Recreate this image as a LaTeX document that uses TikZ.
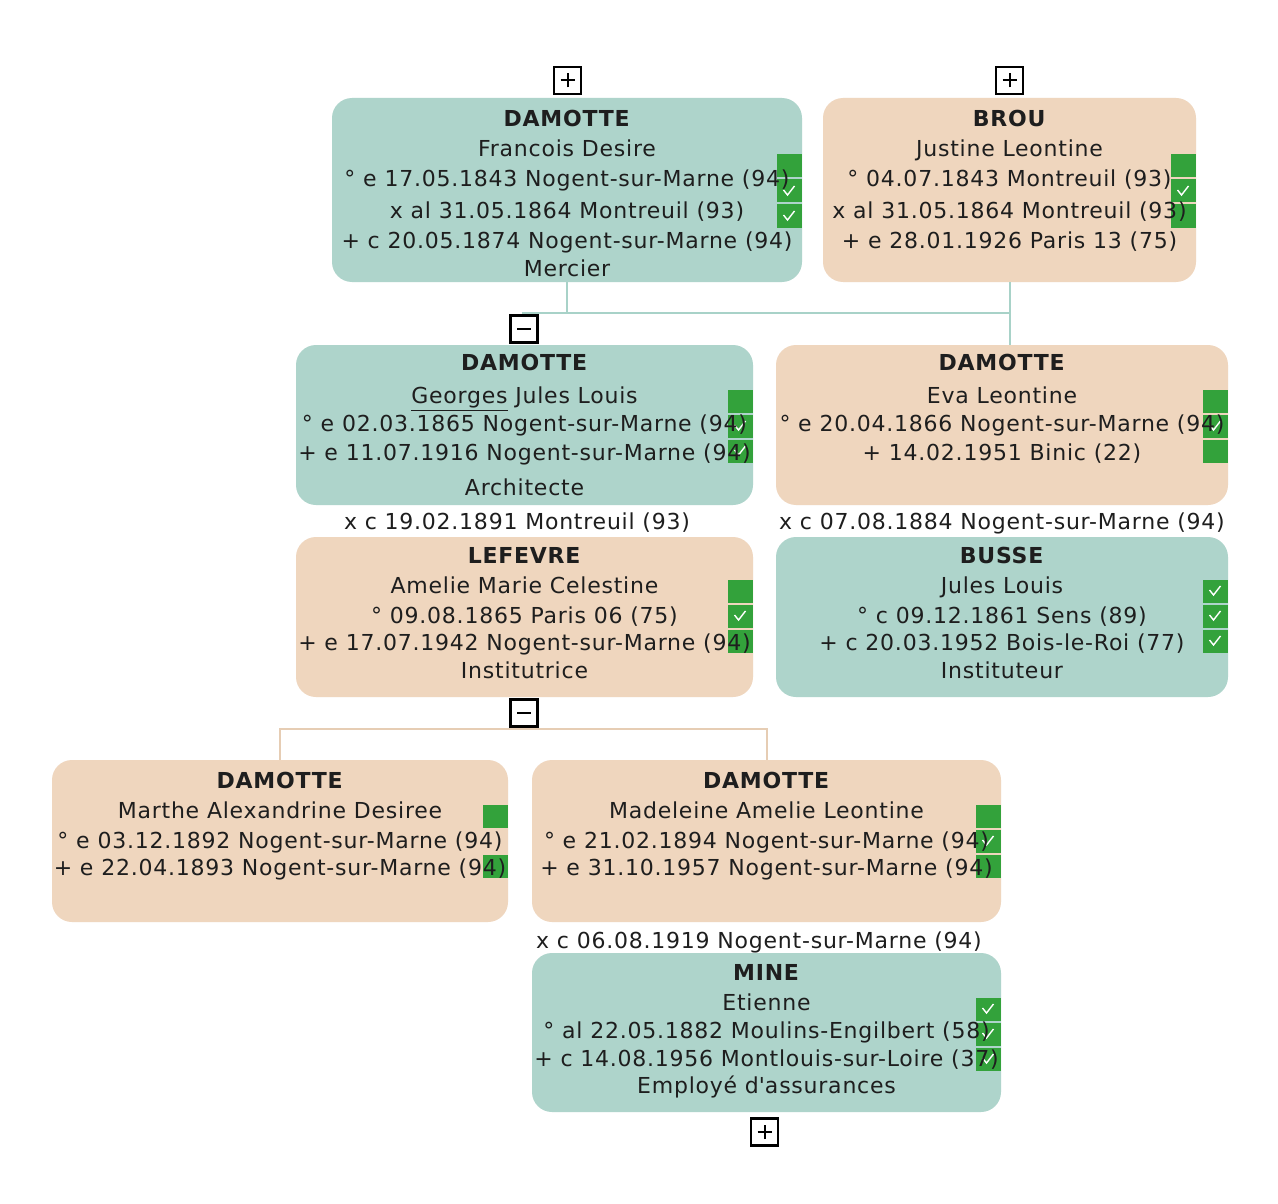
\documentclass[tikz,border=0pt]{standalone}
\usepackage{fontspec}
\setmainfont{DejaVu Sans}[LetterSpace=3.5]
\definecolor{male}{HTML}{AED4CB}
\definecolor{female}{HTML}{EFD6BE}
\definecolor{maletie}{HTML}{A8D2C8}
\definecolor{femaletie}{HTML}{E6CDB4}
\definecolor{source}{HTML}{33A23B}
\definecolor{ink}{HTML}{1E1E1E}
\tikzset{
  person/.style={rectangle, rounded corners=20pt, inner sep=0pt, draw=none},
  man/.style={person, fill=male},
  woman/.style={person, fill=female},
  info/.style={anchor=north, align=center, inner sep=0pt, text=ink, font=\fontsize{22}{30}\selectfont},
  union/.style={inner sep=0pt, text=ink, font=\fontsize{22}{30}\selectfont},
  tie/.style={line width=2pt},
  flag/.style={rectangle, fill=source, minimum width=25pt, minimum height=23pt, inner sep=0pt},
  flagok/.style={flag, path picture={\draw[white, line width=1.4pt] ([shift={(-6pt,1pt)}]path picture bounding box.center) -- ++(4pt,-5pt) -- ++(7pt,9pt);}},
  toggle/.style={rectangle, draw=black, fill=white, line width=2.3pt, minimum size=27pt, inner sep=0pt},
  expand/.style={toggle, path picture={\draw[line width=2pt] ([xshift=-7pt]path picture bounding box.center) -- ++(14pt,0pt) ([yshift=-7pt]path picture bounding box.center) -- ++(0pt,14pt);}},
  collapse/.style={toggle, path picture={\draw[line width=2pt] ([xshift=-7pt]path picture bounding box.center) -- ++(14pt,0pt);}},
}
\begin{document}
\begin{tikzpicture}[x=1pt,y=-1pt]
    \useasboundingbox[fill=white] (0,0) rectangle (1278,1204);
    % boxes
    \node[man, minimum width=470pt, minimum height=184pt] (francois) at (567,190) {};
    \node[woman, minimum width=373pt, minimum height=184pt] (brou) at (1009.5,190) {};
    \node[man, minimum width=457pt, minimum height=160pt] (georges) at (524.5,425) {};
    \node[woman, minimum width=457pt, minimum height=160pt] (lefevre) at (524.5,617) {};
    \node[woman, minimum width=452pt, minimum height=160pt] (eva) at (1002,425) {};
    \node[man, minimum width=452pt, minimum height=160pt] (busse) at (1002,617) {};
    \node[woman, minimum width=456pt, minimum height=162pt] (marthe) at (280,841) {};
    \node[woman, minimum width=469pt, minimum height=162pt] (madeleine) at (766.5,841) {};
    \node[man, minimum width=469pt, minimum height=159pt] (mine) at (766.5,1032.5) {};
    % connectors
    \coordinate (bar1) at (522,313);
    \coordinate (bar2) at (280,729);
    \draw[tie, maletie] (francois.south) -- (francois.south |- bar1);
    \draw[tie, maletie] (bar1) -- (bar1 -| brou.south);
    \draw[tie, maletie] (brou.south) -- (brou.south |- eva.north);
    \draw[tie, femaletie] (marthe.north) -- (bar2) -| (madeleine.north);
    % toggles
    \node[expand] (more-francois) at (567.5,80.5) {};
    \node[expand] (more-brou) at (1009.5,80.5) {};
    \node[collapse] (fold-georges) at (524,329) {};
    \node[collapse] (fold-lefevre) at (524,713) {};
    \node[expand] (more-mine) at (764.5,1132) {};
    % sources
    \foreach \px/\py/\kind [count=\n] in {
        789.5/166/flag, 789.5/191/flagok, 789.5/216/flagok,
        1183.5/166/flag, 1183.5/191/flagok, 1183.5/216/flag,
        740.5/401/flag, 740.5/426/flagok, 740.5/451/flagok,
        740.5/591/flag, 740.5/616/flagok, 740.5/641/flag,
        1215.5/401/flag, 1215.5/426/flagok, 1215.5/451/flag,
        1215.5/591/flagok, 1215.5/616/flagok, 1215.5/641/flagok,
        495.5/816/flag, 495.5/866/flag,
        988.5/816/flag, 988.5/841/flagok, 988.5/866/flag,
        988.5/1009/flagok, 988.5/1034/flagok, 988.5/1059/flagok}
      \node[\kind] (flag\n) at (\px,\py) {};
    % texts
    \node[info] (francois-txt) at ([yshift=-12pt]francois.north) {\textbf{DAMOTTE}\\Francois Desire\\° e 17.05.1843 Nogent-sur-Marne (94)\\[2pt]x al 31.05.1864 Montreuil (93)\\+ c 20.05.1874 Nogent-sur-Marne (94)\\[-2pt]Mercier};
    \node[info] (brou-txt) at ([yshift=-12pt]brou.north) {\textbf{BROU}\\Justine Leontine\\° 04.07.1843 Montreuil (93)\\[2pt]x al 31.05.1864 Montreuil (93)\\+ e 28.01.1926 Paris 13 (75)};
    \node[info] (georges-txt) at ([yshift=-9.5pt]georges.north) {\textbf{DAMOTTE}\\[3pt]\underline{Georges} Jules Louis\\[-2pt]° e 02.03.1865 Nogent-sur-Marne (94)\\[-1pt]+ e 11.07.1916 Nogent-sur-Marne (94)\\[5pt]Architecte};
    \node[union] (georges-x) at (517,523) {x c 19.02.1891 Montreuil (93)};
    \node[info] (lefevre-txt) at ([yshift=-10.5pt]lefevre.north) {\textbf{LEFEVRE}\\Amelie Marie Celestine\\° 09.08.1865 Paris 06 (75)\\[-3pt]+ e 17.07.1942 Nogent-sur-Marne (94)\\[-2pt]Institutrice};
    \node[info] (eva-txt) at ([yshift=-9.5pt]eva.north) {\textbf{DAMOTTE}\\[3pt]Eva Leontine\\[-2pt]° e 20.04.1866 Nogent-sur-Marne (94)\\[-1pt]+ 14.02.1951 Binic (22)};
    \node[union] (eva-x) at (1002,523) {x c 07.08.1884 Nogent-sur-Marne (94)};
    \node[info] (busse-txt) at ([yshift=-10.5pt]busse.north) {\textbf{BUSSE}\\Jules Louis\\° c 09.12.1861 Sens (89)\\[-3pt]+ c 20.03.1952 Bois-le-Roi (77)\\[-2pt]Instituteur};
    \node[info] (marthe-txt) at ([yshift=-12.5pt]marthe.north) {\textbf{DAMOTTE}\\Marthe Alexandrine Desiree\\° e 03.12.1892 Nogent-sur-Marne (94)\\[-3pt]+ e 22.04.1893 Nogent-sur-Marne (94)};
    \node[info] (madeleine-txt) at ([yshift=-12.5pt]madeleine.north) {\textbf{DAMOTTE}\\Madeleine Amelie Leontine\\° e 21.02.1894 Nogent-sur-Marne (94)\\[-3pt]+ e 31.10.1957 Nogent-sur-Marne (94)};
    \node[union] (madeleine-x) at (759,942) {x c 06.08.1919 Nogent-sur-Marne (94)};
    \node[info] (mine-txt) at ([yshift=-11.5pt]mine.north) {\textbf{MINE}\\Etienne\\[-2pt]° al 22.05.1882 Moulins-Engilbert (58)\\[-2pt]+ c 14.08.1956 Montlouis-sur-Loire (37)\\[-3pt]Employé d\textquotesingle assurances};
\end{tikzpicture}
\end{document}
